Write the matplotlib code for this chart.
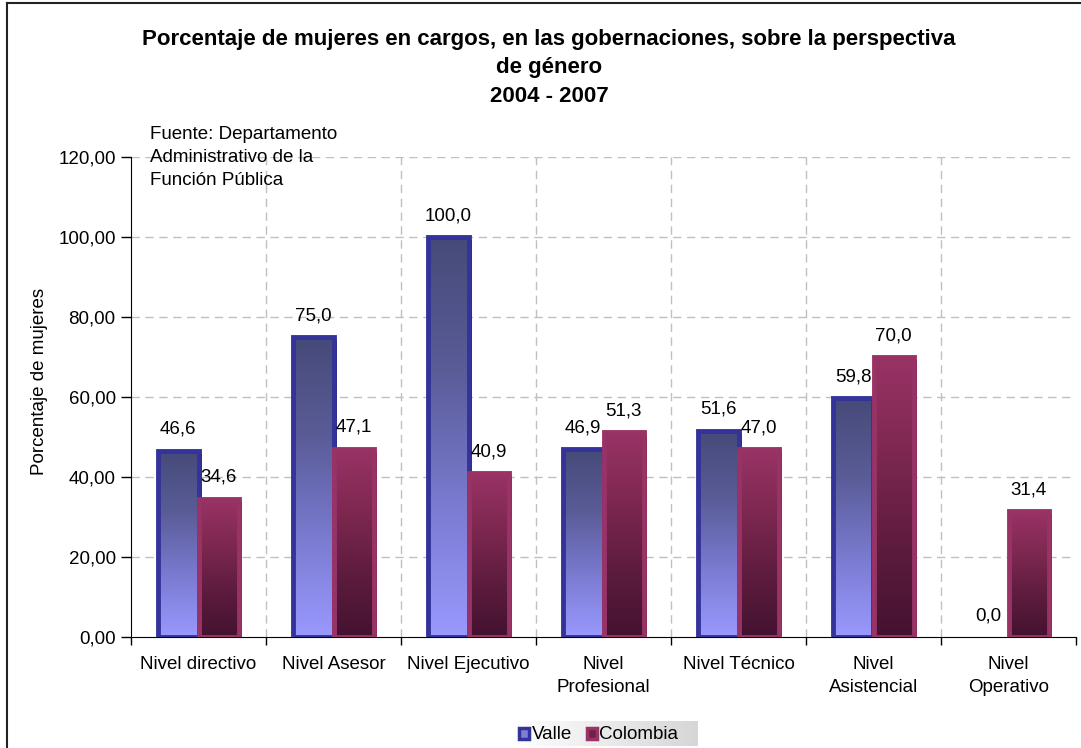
import numpy as np
import matplotlib
matplotlib.use("Agg")
import matplotlib.pyplot as plt
from matplotlib.patches import Rectangle
from matplotlib.colors import LinearSegmentedColormap
import matplotlib.transforms as mtransforms
from matplotlib.lines import Line2D

plt.rcParams['font.family'] = ['Liberation Sans', 'DejaVu Sans']

categories = ["Nivel directivo", "Nivel Asesor", "Nivel Ejecutivo", "Nivel\nProfesional",
              "Nivel Técnico", "Nivel\nAsistencial", "Nivel\nOperativo"]
valle = [46.6, 75.0, 100.0, 46.9, 51.6, 59.8, 0.0]
colombia = [34.6, 47.1, 40.9, 51.3, 47.0, 70.0, 31.4]
series_names = ["Valle", "Colombia"]
yticks = [0, 20, 40, 60, 80, 100, 120]

FS = 13.5
W, H = 1081, 748
fig = plt.figure(figsize=(W/100, H/100), dpi=100)
ax = fig.add_axes([131/W, 1-637/H, (1076-131)/W, (637-157)/H])

valle_cmap = LinearSegmentedColormap.from_list("v", ["#9999ff", "#7a7ad0", "#5a5c98", "#464a78"])
col_cmap = LinearSegmentedColormap.from_list("c", ["#441230", "#5e1c3e", "#7e2850", "#993366"])
grad = np.linspace(0, 1, 256).reshape(-1, 1)

bw = 0.30
x = np.arange(len(categories))

ax.set_xlim(-0.5, len(categories)-0.5)
ax.set_ylim(0, 120)

shadow_tr = mtransforms.offset_copy(ax.transData, fig=fig, x=3, y=-3, units='dots')

def draw_bar(xc, h, cmap, edge):
    if h <= 0:
        return
    left = xc - bw/2
    sh = Rectangle((left, 0), bw, h, facecolor='black', edgecolor='none',
                   transform=shadow_tr, zorder=2)
    ax.add_patch(sh)
    im = ax.imshow(grad, cmap=cmap, extent=[left, left+bw, 0, h], origin='lower',
                   aspect='auto', zorder=3, interpolation='bilinear')
    clip = Rectangle((left, 0), bw, h, transform=ax.transData)
    im.set_clip_path(clip)
    rect = Rectangle((left, 0), bw, h, facecolor='none', edgecolor=edge,
                     linewidth=3.5, zorder=4)
    ax.add_patch(rect)

for i in range(len(categories)):
    draw_bar(x[i]-bw/2, valle[i], valle_cmap, "#333399")
    draw_bar(x[i]+bw/2, colombia[i], col_cmap, "#993366")

for i in range(len(categories)):
    ax.text(x[i]-bw/2, valle[i]+3.2, f"{valle[i]:.1f}".replace('.', ','),
            ha='center', va='bottom', fontsize=FS, zorder=6)
    ax.text(x[i]+bw/2, colombia[i]+3.2, f"{colombia[i]:.1f}".replace('.', ','),
            ha='center', va='bottom', fontsize=FS, zorder=6)

ax.set_xlim(-0.5, len(categories)-0.5)
ax.set_ylim(0, 120)
ax.set_yticks(yticks)
ax.set_yticklabels([f"{v:.2f}".replace('.', ',') for v in yticks], fontsize=FS)
ax.set_xticks(np.arange(len(categories)+1)-0.5, minor=False)
ax.set_xticklabels([])
ax.set_xticks(x, minor=True)
ax.set_xticklabels(categories, minor=True, fontsize=FS, linespacing=1.45)
ax.tick_params(axis='x', which='minor', length=0, pad=14)
ax.tick_params(axis='x', which='major', length=6, direction='out', width=1)
ax.tick_params(axis='y', length=7, direction='out', pad=4, width=1)
for v in yticks[1:]:
    ax.axhline(v, color='#c0c0c0', linestyle=(0, (6, 4)), linewidth=1, zorder=1)
for xv in np.arange(len(categories)-1)+0.5:
    ax.axvline(xv, color='#c0c0c0', linestyle=(0, (6, 4)), linewidth=1, zorder=1)
for s in ['top', 'right']:
    ax.spines[s].set_visible(False)
ax.spines['left'].set_color('black')
ax.spines['bottom'].set_color('black')
ax.set_ylabel("Porcentaje de mujeres", fontsize=FS)
ax.yaxis.set_label_coords((48-131)/945, (637-381)/480)

fig.text(549/W, 1-68/H, "Porcentaje de mujeres en cargos, en las gobernaciones, sobre la perspectiva\nde género\n2004 - 2007",
         ha='center', va='center', fontsize=16, fontweight='bold', linespacing=1.45)
fig.text(150/W, 1-126/H, "Fuente: Departamento\nAdministrativo de la\nFunción Pública",
         ha='left', va='top', fontsize=FS, linespacing=1.45)

# figure border (left and top visible)
fig.add_artist(Line2D([7.5/W, 7.5/W], [0, 1-2.5/H], transform=fig.transFigure, color='#222222', linewidth=1.5))
fig.add_artist(Line2D([7.5/W, 1], [1-2.5/H, 1-2.5/H], transform=fig.transFigure, color='#222222', linewidth=1.5))

# legend
lx0, ly0, lw, lh = 513/W, 1-746/H, 185/W, 25/H
lax = fig.add_axes([lx0, ly0, lw, lh])
lax.imshow(np.linspace(0, 1, 256).reshape(1, -1), cmap=LinearSegmentedColormap.from_list("g", ["#ffffff", "#d6d6d6"]),
           extent=[0, 1, 0, 1], aspect='auto')
lax.set_xlim(0, 1); lax.set_ylim(0, 1); lax.axis('off')
lax.add_patch(Rectangle((0.035, 0.3), 10/185, 0.44, facecolor='#8080d0', edgecolor='#333399', linewidth=2.5))
lax.text(0.10, 0.46, series_names[0], va='center', ha='left', fontsize=FS)
lax.add_patch(Rectangle((0.40, 0.3), 10/185, 0.44, facecolor='#6e2248', edgecolor='#993366', linewidth=2.5))
lax.text(0.465, 0.46, series_names[1], va='center', ha='left', fontsize=FS)

fig.savefig("out.png", dpi=100)
